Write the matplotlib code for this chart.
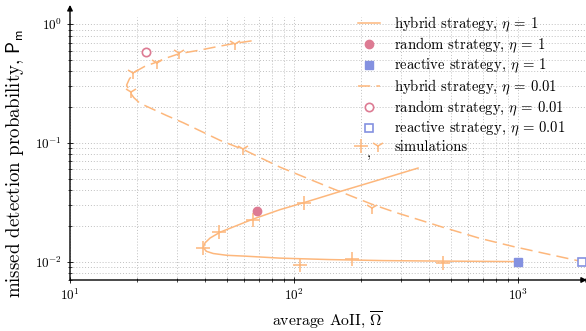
import numpy as np
import matplotlib
matplotlib.use("Agg")
from matplotlib import pyplot as plt
from matplotlib.lines import Line2D
from matplotlib.text import Text
from matplotlib.legend_handler import HandlerBase
from matplotlib.ticker import NullFormatter, LogLocator

plt.rcParams['font.family'] = 'serif'
plt.rcParams['font.serif'] = ['cmr10']
plt.rcParams['mathtext.fontset'] = 'cm'
plt.rcParams['axes.formatter.use_mathtext'] = True
plt.rcParams['axes.unicode_minus'] = False

orange = '#fdb77c'
pink = '#dd7b93'
blue = '#8491e0'

# hybrid strategy, eta = 1 (solid)
hyb1_x = [358, 250, 158, 112, 86.6, 65.6, 46.8, 42.2, 40.1, 39.3, 40.7, 43.6, 50.2, 61.5, 86.6, 145, 250, 462, 1000]
hyb1_y = [0.0614, 0.0500, 0.0386, 0.0316, 0.0274, 0.0228, 0.0177, 0.0158, 0.0144, 0.0131,
          0.0122, 0.0117, 0.0113, 0.0111, 0.0107, 0.0104, 0.0102, 0.0101, 0.0100]

# hybrid strategy, eta = 0.01 (dashed)
hyb001_x = [64.7, 54.6, 45, 38, 30.8, 27, 24.4, 21.5, 19.5, 18.4, 17.9, 18.5, 19.3, 20.5, 27, 32,
            46.8, 59.4, 86.6, 145, 222, 287, 365, 449, 676, 953, 1350, 1935]
hyb001_y = [0.724, 0.690, 0.645, 0.605, 0.565, 0.520, 0.480, 0.440, 0.397, 0.345, 0.307, 0.268, 0.240, 0.216,
            0.170, 0.148, 0.105, 0.088, 0.0625, 0.042, 0.0305, 0.0258, 0.0224, 0.0198, 0.0157, 0.0134, 0.0116, 0.0100]

# simulations
sim1_x = [39.4, 46.4, 65.5, 111, 106, 181, 462]
sim1_y = [0.0130, 0.0178, 0.0223, 0.0310, 0.0094, 0.0106, 0.00975]
sim001_x = [54.6, 30.8, 24.5, 19.2, 18.8, 59.4, 222]
sim001_y = [0.675, 0.574, 0.473, 0.390, 0.268, 0.0885, 0.0285]

# random / reactive strategies
rand1 = (68.1, 0.0265)
rand001 = (21.8, 0.578)
react1 = (1000, 0.0100)
react001 = (1935, 0.0100)


class PlusCommaY(HandlerBase):
    def create_artists(self, legend, orig, xd, yd, w, h, fontsize, trans):
        yc = yd + h / 2
        a = Line2D([xd + 0.15 * w], [yc], marker='+', ms=10, mew=1.1, color=orange, ls='none', transform=trans)
        b = Text(xd + 0.5 * w, yc - 0.5, ',', fontsize=fontsize, va='top', ha='center', transform=trans)
        c = Line2D([xd + 0.9 * w], [yc], marker='1', ms=9, mew=1.1, color=orange, ls='none', transform=trans)
        return [a, b, c]


fig = plt.figure(figsize=(5.86, 3.31), dpi=100)
ax = fig.add_axes([70 / 586, 1 - 280 / 331, 515.4 / 586, 263 / 331])
ax.set_xscale('log')
ax.set_yscale('log')
ax.set_xlim(10, 2000)
ax.set_ylim(0.007, 1.15)

ax.plot(hyb1_x, hyb1_y, color=orange, lw=1.1, label=r'hybrid strategy, $\eta\,=\,1$', zorder=3)
ax.plot(*rand1, 'o', color=pink, ms=6, label=r'random strategy, $\eta\,=\,1$', zorder=4)
ax.plot(*react1, 's', color=blue, ms=6, label=r'reactive strategy, $\eta\,=\,1$', zorder=4)
ax.plot(hyb001_x, hyb001_y, color=orange, lw=1.1, dashes=(8, 4), label=r'hybrid strategy, $\eta\,=\,0.01$', zorder=3)
ax.plot(*rand001, 'o', mfc='white', mec=pink, mew=1.2, ms=6, label=r'random strategy, $\eta\,=\,0.01$', zorder=4)
ax.plot(*react001, 's', mfc='white', mec=blue, mew=1.2, ms=6, label=r'reactive strategy, $\eta\,=\,0.01$',
        zorder=4, clip_on=False)
ax.plot(sim1_x, sim1_y, '+', color=orange, ms=10, mew=1.1, zorder=3)
ax.plot(sim001_x, sim001_y, '1', color=orange, ms=9, mew=1.1, zorder=3)

ax.grid(which='both', ls=(0, (1, 2)), color='#c0c0c0', lw=0.7)
ax.xaxis.set_minor_locator(LogLocator(base=10, subs=np.arange(2, 10)))
ax.yaxis.set_minor_locator(LogLocator(base=10, subs=np.arange(2, 10)))
ax.xaxis.set_minor_formatter(NullFormatter())
ax.yaxis.set_minor_formatter(NullFormatter())
ax.tick_params(which='major', direction='inout', length=5, width=0.6, labelsize=9.5, pad=3)
ax.tick_params(which='minor', direction='inout', length=3, width=0.5)

for s in ax.spines.values():
    s.set_visible(False)
ax.annotate('', xy=(0, 1.046), xytext=(0, 0), xycoords='axes fraction',
            arrowprops=dict(arrowstyle='-|>', color='k', lw=1.0, mutation_scale=8, shrinkA=0, shrinkB=0),
            annotation_clip=False)
ax.annotate('', xy=(1.003, 0), xytext=(0, 0), xycoords='axes fraction',
            arrowprops=dict(arrowstyle='-|>', color='k', lw=1.0, mutation_scale=8, shrinkA=0, shrinkB=0),
            annotation_clip=False)

ax.set_xlabel(r'average AoII, $\overline{\Omega}$', fontsize=11.3)
ax.set_ylabel(r'missed detection probability, $\mathsf{P}_\mathsf{m}$', fontsize=13.6)
ax.yaxis.set_label_coords(-0.085, 0.443)

handles, labels = ax.get_legend_handles_labels()
handles.append(Line2D([], []))
labels.append('simulations')
leg = ax.legend(handles, labels, handler_map={handles[-1]: PlusCommaY()}, loc='upper left',
                bbox_to_anchor=(0.559, 1.01), frameon=False, fontsize=10.6, handlelength=1.5,
                handletextpad=0.94, labelspacing=0.13, borderpad=0, borderaxespad=0)

fig.savefig('out.png', dpi=100)
